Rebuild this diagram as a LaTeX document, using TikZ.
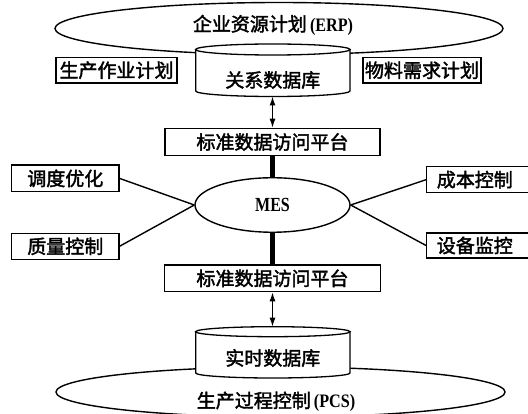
\documentclass[tikz,border=0pt]{standalone}
\usepackage{fontspec}
\setmainfont{Liberation Serif}
\newfontfamily\cjk{Noto Sans CJK SC}[FakeBold=2]
\usetikzlibrary{arrows.meta,shapes.geometric}
\newcommand{\lat}[1]{{\rmfamily\fontsize{19}{19}\selectfont\bfseries\scalebox{0.85}[1]{#1}}}
\newcommand{\latmes}[1]{{\rmfamily\fontsize{20}{20}\selectfont\bfseries\scalebox{0.8}[1]{#1}}}
\tikzset{
  box/.style={draw, line width=1.2pt, fill=white, inner sep=0pt,
    font=\cjk\fontsize{19}{20}\selectfont},
  bigell/.style={draw, ellipse, line width=1.4pt, inner sep=0pt},
  cjktext/.style={inner sep=0pt, font=\cjk\fontsize{19}{20}\selectfont},
  link/.style={line width=1.4pt},
  thickbar/.style={line width=5pt},
  dbl/.style={line width=1.2pt, {Latex[length=9pt,width=6pt]}-{Latex[length=9pt,width=6pt]}},
  cyl/.style={line width=1.3pt, fill=white}
}
\begin{document}
\begin{tikzpicture}[x=1pt,y=-1pt]
\useasboundingbox (0,0) rectangle (528,414);
\clip (0,0) rectangle (528,414);
% top ERP ellipse
\node[bigell, minimum width=448pt, minimum height=52pt] (erp) at (279,28.5) {};
\node[cjktext] (erptext) at (273,25) {企业资源计划\,\lat{(ERP)}};
% top side boxes
\node[box, minimum width=121pt, minimum height=25.5pt] (plan1) at (116.5,70.25) {生产作业计划};
\node[box, minimum width=118pt, minimum height=25.5pt] (plan2) at (422,70.25) {物料需求计划};
% relational database cylinder
\filldraw[cyl] (195.7,49.5) -- (195.7,91) arc[start angle=180, end angle=0, x radius=77.15, y radius=5.5] -- (350,49.5) -- cycle;
\filldraw[cyl] (272.85,49.5) ellipse [x radius=77.15, y radius=5.5];
\node[cjktext] (rdb) at (272.85,80) {关系数据库};
\coordinate (rdbbot) at (272.5,96.5);
% standard data access platform 1
\node[box, minimum width=215pt, minimum height=27.4pt] (std1) at (272.5,142) {标准数据访问平台};
\draw[dbl] (rdbbot) -- (std1.north);
% MES
\node[draw, ellipse, line width=1.4pt, fill=white, inner sep=0pt, minimum width=155pt, minimum height=54.5pt] (mes) at (272.5,205) {\latmes{MES}};
\node[box, minimum width=215.7pt, minimum height=26.7pt] (std2) at (272.5,278.35) {标准数据访问平台};
\draw[thickbar] (std1.south) -- (mes.north);
\draw[thickbar] (mes.south) -- (std2.north);
% side boxes
\node[box, minimum width=107.3pt, minimum height=26.7pt] (s1) at (65.3,178.4) {调度优化};
\node[box, minimum width=107.3pt, minimum height=26pt] (s2) at (65.3,246.3) {质量控制};
\node[box, minimum width=108.3pt, minimum height=26pt] (s3) at (480.85,179.7) {\hspace*{-12pt}成本控制};
\node[box, minimum width=108.3pt, minimum height=25pt] (s4) at (480.85,245.5) {\hspace*{-12pt}设备监控};
\draw[link] (s1.east) -- (mes.west);
\draw[link] (s2.east) -- (mes.west);
\draw[link] (s3.west) -- (mes.east);
\draw[link] (s4.west) -- (mes.east);
% bottom PCS ellipse
\node[bigell, minimum width=449pt, minimum height=50pt] (pcs) at (280.5,392) {};
\node[cjktext] (pcstext) at (276,401.7) {生产过程控制\,\lat{(PCS)}};
% real-time database cylinder
\filldraw[cyl] (195.7,331.7) -- (195.7,373) arc[start angle=180, end angle=0, x radius=77.15, y radius=5] -- (350,331.7) -- cycle;
\filldraw[cyl] (272.85,331.7) ellipse [x radius=77.15, y radius=5];
\node[cjktext] (rtdb) at (272.85,358) {实时数据库};
\coordinate (rtdbtop) at (272.5,326.7);
\draw[dbl] (std2.south) -- (rtdbtop);
\end{tikzpicture}
\end{document}
